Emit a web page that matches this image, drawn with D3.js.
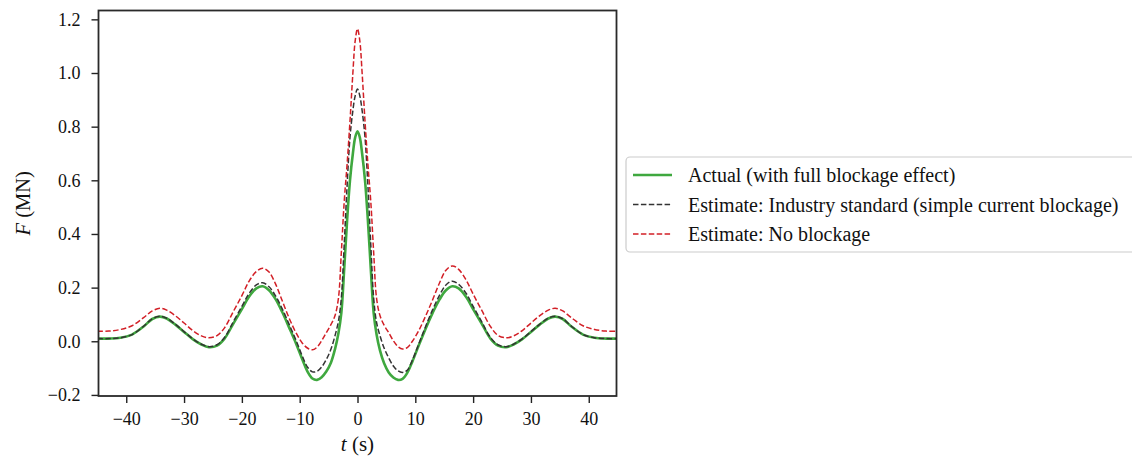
<!DOCTYPE html>
<html>
<head>
<meta charset="utf-8">
<script src="https://cdn.jsdelivr.net/npm/d3@7"></script>
<style>
  html, body { margin: 0; padding: 0; background: #fff; }
  svg { display: block; }
  text { font-family: "Liberation Serif", "DejaVu Serif", serif; fill: #111; }
</style>
</head>
<body>
<svg id="chart" width="1132" height="467"></svg>
<script>
// Time samples (s)
const time = [-45, -43, -41, -39, -37, -35.5, -34.2, -33, -31.5, -30, -28.5, -27, -25.7, -24.3, -23, -21.5, -20, -18.8, -17.5, -16.4, -15.3, -14.2, -13, -11.8, -10.6, -9.5, -8.6, -7.8, -7.0, -6.2, -5.4, -4.6, -3.9, -3.3, -2.8, -2.3, -1.8, -1.3, -0.8, -0.4, 0,
  0.4, 0.8, 1.3, 1.8, 2.3, 2.8, 3.3, 3.9, 4.6, 5.4, 6.2, 7.0, 7.8, 8.6, 9.5, 10.6, 11.8, 13, 14.2, 15.3, 16.4, 17.5, 18.8, 20, 21.5, 23, 24.3, 25.7, 27, 28.5, 30, 31.5, 33, 34.2, 35.5, 37, 39, 41, 43, 45];

// Force (MN): actual, with full blockage effect
const actual = [0.010, 0.010, 0.013, 0.025, 0.055, 0.083, 0.092, 0.085, 0.062, 0.035, 0.008, -0.012, -0.022, -0.016, 0.010, 0.065, 0.120, 0.165, 0.197, 0.205, 0.190, 0.158, 0.108, 0.050, -0.010, -0.070, -0.115, -0.139, -0.144, -0.134, -0.113, -0.080, -0.030, 0.030, 0.105, 0.270, 0.450, 0.600, 0.700, 0.760, 0.783,
  0.760, 0.700, 0.600, 0.450, 0.270, 0.105, 0.025, -0.035, -0.082, -0.116, -0.135, -0.144, -0.140, -0.118, -0.075, -0.015, 0.048, 0.106, 0.156, 0.190, 0.205, 0.197, 0.165, 0.120, 0.065, 0.010, -0.016, -0.022, -0.012, 0.008, 0.035, 0.062, 0.085, 0.092, 0.083, 0.055, 0.025, 0.013, 0.010, 0.010];

// Force (MN): industry standard estimate (simple current blockage)
const industry = [0.010, 0.010, 0.013, 0.025, 0.056, 0.084, 0.093, 0.086, 0.063, 0.036, 0.009, -0.011, -0.020, -0.013, 0.014, 0.072, 0.130, 0.177, 0.210, 0.218, 0.203, 0.170, 0.120, 0.062, 0.002, -0.058, -0.098, -0.114, -0.112, -0.096, -0.068, -0.030, 0.020, 0.075, 0.160, 0.360, 0.580, 0.760, 0.860, 0.915, 0.940,
  0.915, 0.860, 0.760, 0.580, 0.360, 0.160, 0.070, 0.020, -0.025, -0.062, -0.092, -0.110, -0.116, -0.108, -0.070, -0.010, 0.056, 0.118, 0.172, 0.210, 0.224, 0.212, 0.178, 0.130, 0.072, 0.014, -0.013, -0.020, -0.011, 0.009, 0.036, 0.063, 0.086, 0.093, 0.084, 0.056, 0.025, 0.013, 0.010, 0.010];

// Force (MN): estimate without blockage
const noBlockage = [0.037, 0.038, 0.044, 0.058, 0.088, 0.113, 0.123, 0.116, 0.095, 0.068, 0.040, 0.020, 0.013, 0.021, 0.050, 0.110, 0.170, 0.222, 0.260, 0.272, 0.258, 0.215, 0.150, 0.085, 0.030, -0.008, -0.026, -0.032, -0.022, 0.002, 0.032, 0.062, 0.095, 0.160, 0.330, 0.520, 0.660, 0.820, 1.000, 1.120, 1.165,
  1.120, 1.000, 0.820, 0.660, 0.520, 0.330, 0.160, 0.095, 0.060, 0.032, 0.002, -0.020, -0.029, -0.024, 0.000, 0.040, 0.095, 0.155, 0.218, 0.265, 0.281, 0.268, 0.228, 0.176, 0.115, 0.055, 0.022, 0.013, 0.020, 0.040, 0.068, 0.095, 0.116, 0.123, 0.113, 0.088, 0.058, 0.044, 0.038, 0.037];

const xTicks = [-40, -30, -20, -10, 0, 10, 20, 30, 40];
const yTicks = [-0.2, 0.0, 0.2, 0.4, 0.6, 0.8, 1.0, 1.2];

const seriesNames = [
  "Actual (with full blockage effect)",
  "Estimate: Industry standard (simple current blockage)",
  "Estimate: No blockage"
];

const series = [
  { name: seriesNames[0], values: actual,     color: "#3fa83f", width: 2.6, dash: null },
  { name: seriesNames[1], values: industry,   color: "#333333", width: 1.5, dash: "5.5,2.4" },
  { name: seriesNames[2], values: noBlockage, color: "#d21f26", width: 1.5, dash: "5.5,2.4" }
];

const svg = d3.select("#chart");
const plot = { left: 98.5, top: 10.5, right: 616.5, bottom: 396 };

const x = d3.scaleLinear().domain([-44.8, 44.8]).range([plot.left, plot.right]);
const y = d3.scaleLinear().domain([-0.204, 1.233]).range([plot.bottom, plot.top]);

const fmtMinus = s => s.replace("-", "\u2212");

// Clip so the curves stay inside the frame
svg.append("defs").append("clipPath").attr("id", "plot-clip")
  .append("rect")
  .attr("x", plot.left).attr("y", plot.top)
  .attr("width", plot.right - plot.left).attr("height", plot.bottom - plot.top);

const line = d3.line()
  .x((d, i) => x(time[i]))
  .y(d => y(d))
  .curve(d3.curveCatmullRom.alpha(0.5));

const lines = svg.append("g").attr("clip-path", "url(#plot-clip)");
series.forEach(s => {
  lines.append("path")
    .datum(s.values)
    .attr("fill", "none")
    .attr("stroke", s.color)
    .attr("stroke-width", s.width)
    .attr("stroke-dasharray", s.dash)
    .attr("d", line);
});

// Axes
const xAxis = d3.axisBottom(x).tickValues(xTicks).tickSize(7).tickSizeOuter(0).tickPadding(9)
  .tickFormat(d => fmtMinus(d3.format("d")(d)));
const yAxis = d3.axisLeft(y).tickValues(yTicks).tickSize(7).tickSizeOuter(0).tickPadding(11)
  .tickFormat(d => fmtMinus(d3.format(".1f")(d)));

const gx = svg.append("g").attr("transform", `translate(0,${plot.bottom})`).call(xAxis);
const gy = svg.append("g").attr("transform", `translate(${plot.left},0)`).call(yAxis);
[gx, gy].forEach(g => {
  g.select(".domain").remove();
  g.selectAll(".tick line").attr("stroke", "#222").attr("stroke-width", 1.4);
  g.selectAll(".tick text").attr("font-size", 18).attr("fill", "#111")
    .style("font-family", "'Liberation Serif', serif");
});

// Frame
svg.append("rect")
  .attr("x", plot.left).attr("y", plot.top)
  .attr("width", plot.right - plot.left).attr("height", plot.bottom - plot.top)
  .attr("fill", "none").attr("stroke", "#2a2a2a").attr("stroke-width", 1.8);

// Axis titles
const xt = svg.append("text")
  .attr("x", (plot.left + plot.right) / 2).attr("y", 451)
  .attr("text-anchor", "middle").attr("font-size", 21);
xt.append("tspan").attr("font-style", "italic").text("t");
xt.append("tspan").text(" (s)");

const yt = svg.append("text")
  .attr("transform", `translate(30,${(plot.top + plot.bottom) / 2}) rotate(-90)`)
  .attr("text-anchor", "middle").attr("font-size", 20.5);
yt.append("tspan").attr("font-style", "italic").text("F");
yt.append("tspan").text(" (MN)");

// Legend
const legend = svg.append("g");
legend.append("rect")
  .attr("x", 626).attr("y", 157).attr("width", 530).attr("height", 95).attr("rx", 4)
  .attr("fill", "#fff").attr("stroke", "#cccccc").attr("stroke-width", 1.2);

series.forEach((s, i) => {
  const yy = 175 + i * 29.5;
  legend.append("line")
    .attr("x1", 633).attr("x2", 672).attr("y1", yy).attr("y2", yy)
    .attr("stroke", s.color).attr("stroke-width", s.width)
    .attr("stroke-dasharray", s.dash);
  legend.append("text")
    .attr("x", 688).attr("y", yy).attr("dy", "0.35em")
    .attr("font-size", 20).text(s.name);
});
</script>
</body>
</html>
